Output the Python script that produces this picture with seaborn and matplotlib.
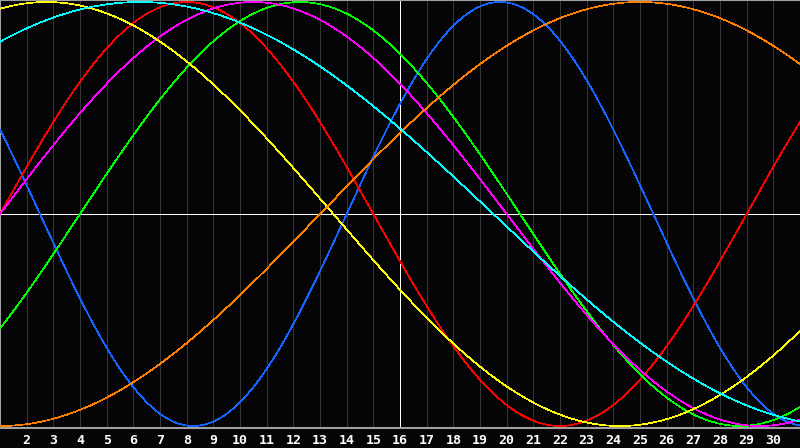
import numpy as np
import pandas as pd
import matplotlib
matplotlib.use("Agg")
import matplotlib.pyplot as plt
import seaborn as sns

# biorhythm cycles: cycle length (days) and the day the curve crosses 0 going up
cycle_names = ["physical", "emotional", "intellectual", "intuitive", "aesthetic", "awareness", "spiritual"]
periods = [23, 28, 33, 38, 43, 48, 53]
zero_days = [14, 1, 4, 1, -8, 13, -7]
colors = ["#1464ff", "#ff0000", "#00ff00", "#ff00ff", "#ffff00", "#ff8000", "#00ffff"]

days = list(range(1, 32))
tick_days = list(range(2, 31))
today = 16

# curves
t = np.linspace(days[0], days[-1], 1200)
rows = []
for name, p, z in zip(cycle_names, periods, zero_days):
    rows.append(pd.DataFrame({"day": t, "value": np.sin(2 * np.pi * (t - z) / p), "cycle": name}))
df = pd.concat(rows, ignore_index=True)

sns.set_style("dark", {"axes.facecolor": "#050508", "figure.facecolor": "#050508"})
plt.rcParams["font.family"] = ["DejaVu Sans Mono", "DejaVu Sans"]

fig = plt.figure(figsize=(8, 4.48), dpi=100)
ax = fig.add_axes([0, 20 / 448, 1, 428 / 448])

# day grid
for d in tick_days:
    ax.axvline(d, color="#363636", lw=0.72, antialiased=False, zorder=1)
ax.axvline(today, color="white", lw=0.72, antialiased=False, zorder=2)
ax.axhline(0, color="white", lw=0.72, antialiased=False, zorder=2)

sns.lineplot(data=df, x="day", y="value", hue="cycle", palette=dict(zip(cycle_names, colors)),
             lw=0.5, legend=False, ax=ax, zorder=3, sort=False)
for ln in ax.get_lines():
    ln.set_antialiased(False)

ax.set_xlim(days[0], days[-1])
ax.set_ylim(-1.0094, 1.0094)
ax.set_xticks(tick_days)
ax.set_xticklabels([str(d) for d in tick_days], color="white", fontsize=9.5, fontweight="bold")
ax.tick_params(axis="x", length=0, pad=4)
ax.set_yticks([])
ax.set_xlabel("")
ax.set_ylabel("")
ax.grid(False)
for side in ["left", "top", "bottom"]:
    ax.spines[side].set_visible(True)
    ax.spines[side].set_color("#a0a0a0")
    ax.spines[side].set_linewidth(1.5)
ax.spines["right"].set_visible(False)

fig.savefig("out.png", dpi=100, facecolor=fig.get_facecolor())
